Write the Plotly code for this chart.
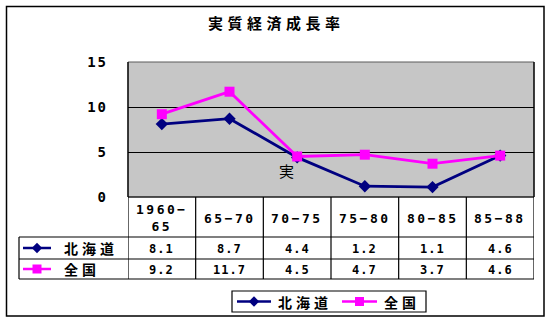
import plotly.graph_objects as go

# --- data -------------------------------------------------------------
periods = ["1960-\n65", "65-70", "70-75", "75-80", "80-85", "85-88"]
hokkaido = [8.1, 8.7, 4.4, 1.2, 1.1, 4.6]
zenkoku = [9.2, 11.7, 4.5, 4.7, 3.7, 4.6]
series_names = ["北海道", "全国"]
y_ticks = [0, 5, 10, 15]
title = "実質経済成長率"

W, H = 552, 323
JP_FONT = "Noto Sans CJK JP"
NUM_FONT = "DejaVu Sans Mono"
NAVY = "#000080"
MAGENTA = "#ff00ff"
# symbol, marker size on the chart, marker size in the keys, colour
SYMBOLS = {series_names[0]: ("diamond", 9.5, 8, NAVY),
           series_names[1]: ("square", 10, 9, MAGENTA)}


# pixel layout helpers (paper coordinates, origin top-left in pixels)
def px(x):
    return x / W


def py(y):
    return 1 - y / H


def spaced(text, gap):
    return f'<span style="letter-spacing:{gap}px">{text}</span>'


PLOT_L, PLOT_R, PLOT_T, PLOT_B = 128, 534, 62, 197
HEAD_B, ROW1_B, ROW2_B = 237, 259, 279
TABLE_L = 19

n = len(periods)
xs = list(range(n))

fig = go.Figure()
for name, vals in ((series_names[0], hokkaido), (series_names[1], zenkoku)):
    sym, size, _, color = SYMBOLS[name]
    fig.add_trace(go.Scatter(
        x=xs, y=vals, name=name, mode="lines+markers",
        line=dict(color=color, width=2.8),
        marker=dict(symbol=sym, size=size, color=color),
        showlegend=False,
    ))

shapes = []
annotations = []

# outer frame
shapes.append(dict(type="rect", xref="paper", yref="paper",
                   x0=px(6.5), x1=px(544), y0=py(316), y1=py(6.5),
                   line=dict(color="black", width=1.5)))

# plot area background and border
shapes.append(dict(type="rect", xref="paper", yref="paper", layer="below",
                   x0=px(PLOT_L), x1=px(PLOT_R), y0=py(PLOT_B), y1=py(PLOT_T),
                   fillcolor="#c6c6c6", line=dict(color="#5a5a5a", width=1)))
for xx in (PLOT_L, PLOT_R):
    shapes.append(dict(type="line", xref="paper", yref="paper",
                       x0=px(xx), x1=px(xx), y0=py(PLOT_B), y1=py(PLOT_T),
                       line=dict(color="black", width=1.3)))

# data table grid
tbl_line = dict(color="black", width=1.2)
for yb in (PLOT_B, HEAD_B, ROW1_B, ROW2_B):
    x0 = PLOT_L if yb == PLOT_B else TABLE_L
    shapes.append(dict(type="line", xref="paper", yref="paper",
                       x0=px(x0), x1=px(PLOT_R), y0=py(yb), y1=py(yb), line=tbl_line))
shapes.append(dict(type="line", xref="paper", yref="paper",
                   x0=px(TABLE_L), x1=px(TABLE_L), y0=py(ROW2_B), y1=py(HEAD_B), line=tbl_line))
for i in range(n + 1):
    shapes.append(dict(type="line", xref="x", yref="paper",
                       x0=i - 0.5, x1=i - 0.5, y0=py(ROW2_B), y1=py(PLOT_B), line=tbl_line))

head_font = dict(family=NUM_FONT, size=13, color="black", weight="bold")
num_font = dict(family=NUM_FONT, size=12, color="black", weight="bold")
for i, p in enumerate(periods):
    label = "<br>".join(spaced(part.replace("-", "−"), 2.5) for part in p.split("\n"))
    annotations.append(dict(x=i, y=py((PLOT_B + HEAD_B) / 2 + 1), xref="x", yref="paper",
                            xanchor="center", yanchor="middle",
                            text=label, showarrow=False, font=head_font))
    annotations.append(dict(x=i, y=py((HEAD_B + ROW1_B) / 2 + 1), xref="x", yref="paper",
                            xanchor="center", yanchor="middle",
                            text=spaced(f"{hokkaido[i]}", 1), showarrow=False, font=num_font))
    annotations.append(dict(x=i, y=py((ROW1_B + ROW2_B) / 2 + 1), xref="x", yref="paper",
                            xanchor="center", yanchor="middle",
                            text=spaced(f"{zenkoku[i]}", 1), showarrow=False, font=num_font))

jp_font = dict(family=JP_FONT, size=14, color="black", weight="bold")


def add_key(x_line0, x_line1, yc, name, x_text):
    sym, _, key_size, color = SYMBOLS[name]
    shapes.append(dict(type="line", xref="paper", yref="paper",
                       x0=px(x_line0), x1=px(x_line1), y0=py(yc), y1=py(yc),
                       line=dict(color=color, width=2.5)))
    fig.add_trace(go.Scatter(
        x=[px((x_line0 + x_line1) / 2)], y=[py(yc)], xaxis="x2", yaxis="y2",
        mode="markers", marker=dict(symbol=sym, size=key_size, color=color),
        showlegend=False, hoverinfo="skip"))
    annotations.append(dict(x=px(x_text), y=py(yc), xref="paper", yref="paper",
                            xanchor="left", yanchor="middle",
                            text=spaced(name, 4), showarrow=False, font=jp_font))


# series keys in the table's first column
add_key(23, 51, (HEAD_B + ROW1_B) / 2, series_names[0], 62)
add_key(23, 51, (ROW1_B + ROW2_B) / 2, series_names[1], 62)

# legend box below the table
shapes.append(dict(type="rect", xref="paper", yref="paper",
                   x0=px(232), x1=px(426), y0=py(312), y1=py(291),
                   line=dict(color="black", width=1.2)))
add_key(237, 271, 301.5, series_names[0], 276)
add_key(342, 377, 301.5, series_names[1], 382)

# stray label inside the plot area
annotations.append(dict(x=2, y=2.9, xref="x", yref="y", xshift=-11,
                        xanchor="center", yanchor="middle",
                        text="実", showarrow=False,
                        font=dict(family=JP_FONT, size=15, color="black")))

# title
annotations.append(dict(x=px(276), y=py(22), xref="paper", yref="paper",
                        xanchor="center", yanchor="middle",
                        text=spaced(title, 4.5), showarrow=False,
                        font=dict(family=JP_FONT, size=15, color="black", weight="bold")))

fig.update_layout(
    width=W, height=H,
    margin=dict(l=0, r=0, t=0, b=0, pad=0, autoexpand=False),
    paper_bgcolor="white",
    plot_bgcolor="rgba(0,0,0,0)",
    showlegend=False,
    xaxis=dict(domain=[px(PLOT_L), px(PLOT_R)], range=[-0.5, n - 0.5],
               showticklabels=False, showgrid=False, zeroline=False,
               fixedrange=True, automargin=False),
    yaxis=dict(domain=[py(PLOT_B), py(PLOT_T)], range=[0, 15],
               tickvals=y_ticks, ticktext=[spaced(str(v), 2) for v in y_ticks],
               showgrid=True, gridcolor="black", gridwidth=1,
               zeroline=False, ticks="", ticklabelstandoff=19,
               tickfont=dict(family=NUM_FONT, size=14, color="black", weight="bold"),
               fixedrange=True, automargin=False),
    xaxis2=dict(domain=[0, 1], range=[0, 1], visible=False, anchor="y2"),
    yaxis2=dict(domain=[0, 1], range=[0, 1], visible=False, anchor="x2"),
    shapes=shapes,
    annotations=annotations,
)

fig.write_html("out.html")
